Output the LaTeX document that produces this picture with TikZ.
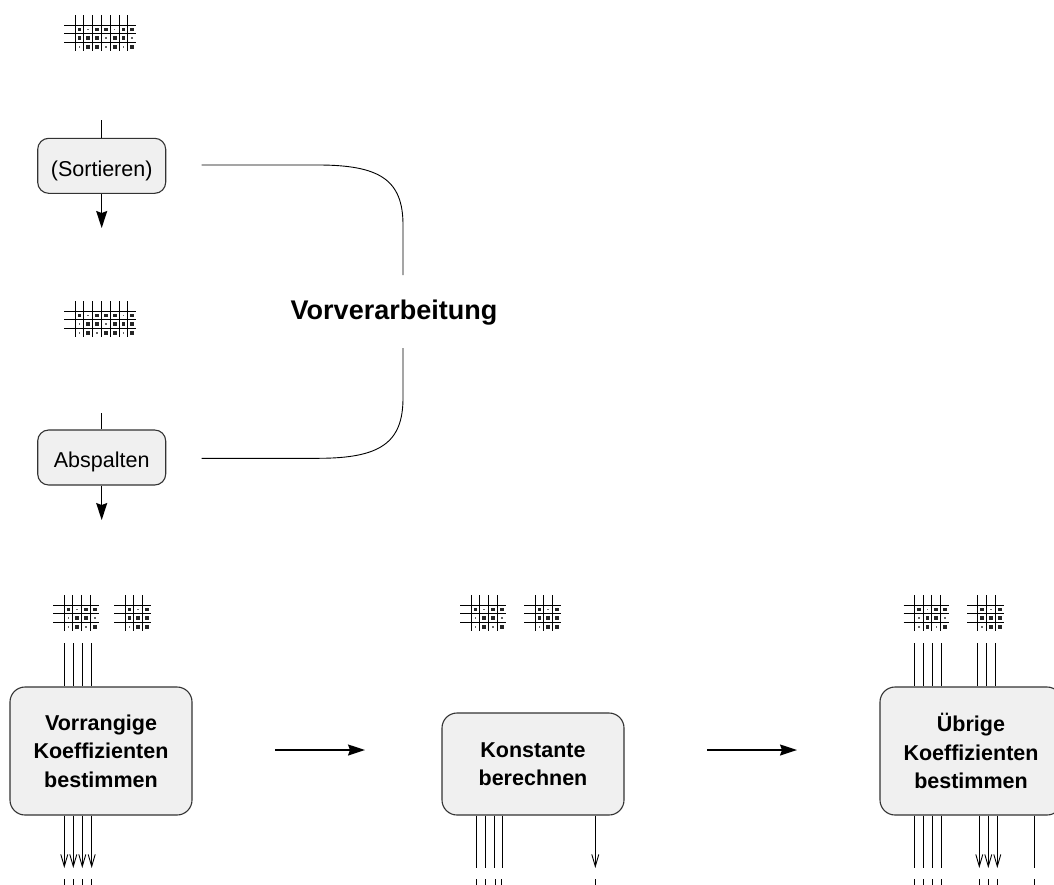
\documentclass[tikz,border=0pt]{standalone}
\usepackage{fontspec}
\setmainfont{Liberation Sans}
\usetikzlibrary{arrows.meta}
\definecolor{boxfill}{HTML}{F0F0F0}
\definecolor{boxline}{HTML}{333333}
\newcommand\cs{8.8}
\newcommand\spm[4]{%
 \begin{scope}[shift={(#1,#2)}]
  \foreach \i in {1,...,#3} \draw[gline] ({(\i-1)*\cs},-10) -- ({(\i-1)*\cs},{2*\cs+8.5});
  \foreach \j in {0,1,2} \draw[gline] (-10.7,{\j*\cs}) -- ({(#3-1)*\cs+8.3},{\j*\cs});
  \foreach \row [count=\j from 0] in {#4} {
    \foreach \t [count=\i from 0] in \row {
      \ifnum\t=2
        \fill[black!85] ({\i*\cs+\cs/2-1.9},{\j*\cs+\cs/2-1.9}) rectangle +(3.8,3.8);
      \else
        \fill[black!60] ({\i*\cs+\cs/2-0.8},{\j*\cs+\cs/2-0.8}) rectangle +(1.6,1.6);
      \fi
    }
  }
 \end{scope}}
\tikzset{
  gline/.style={line width=0.9pt, black},
  smallbox/.style={draw=boxline, fill=boxfill, line width=1.1pt, rounded corners=11pt,
    minimum width=128pt, minimum height=55pt, inner sep=0pt,
    text height=25pt, text depth=4.6pt,
    font=\fontsize{21.5}{26}\selectfont},
  bigbox/.style={draw=boxline, fill=boxfill, line width=1.1pt, rounded corners=15pt,
    minimum width=182pt, inner sep=0pt, align=center,
    font=\fontsize{21.5}{28.5}\selectfont\bfseries},
  conn/.style={line width=1.2pt},
  bigarrow/.style={line width=1.4pt, -{Stealth[length=17pt,width=11pt,inset=2pt]}},
  thin/.style={line width=0.9pt},
  thinarrow/.style={line width=0.9pt, -{Straight Barb[length=12pt,width=7pt]}},
}
\begin{document}
\begin{tikzpicture}[x=1pt,y=-1pt]
\useasboundingbox (0,0) rectangle (1054,884);
\clip (0,0) rectangle (1054,884);
% sparse matrix icons
\spm{75}{25}{7}{{2,1,2,2,1,2,2},{2,2,2,1,2,2,1},{1,2,2,1,2,1,2}}
\spm{75}{311}{7}{{2,1,2,2,2,1,2},{1,2,2,1,2,2,2},{1,2,1,2,2,1,2}}
\spm{64}{605}{4}{{2,1,2,2},{1,2,2,1},{1,2,1,2}}
\spm{125}{605}{3}{{2,1,2},{2,2,2},{1,2,2}}
\spm{471}{605}{4}{{2,1,2,2},{1,2,2,1},{1,2,1,2}}
\spm{535}{605}{3}{{2,1,2},{2,2,2},{1,2,2}}
\spm{914.3}{605}{4}{{2,1,2,2},{1,2,2,1},{1,2,1,2}}
\spm{977.7}{605}{3}{{2,1,2},{2,2,2},{1,2,2}}
% preprocessing boxes
\node[smallbox] (sort) at (101.7,165.8) {(Sortieren)};
\node[smallbox] (absp) at (101.7,457.5) {Abspalten};
\coordinate (sIn) at (101.7,120);
\coordinate (sOut) at (101.7,228);
\coordinate (aIn) at (101.7,413);
\coordinate (aOut) at (101.7,520);
\draw[conn] (sIn) -- (sort);
\draw[bigarrow] (sort) -- (sOut);
\draw[conn] (aIn) -- (absp);
\draw[bigarrow] (absp) -- (aOut);
% brace
\node[font=\fontsize{27}{32}\selectfont\bfseries] (vv) at (394,313) {Vorverarbeitung};
\coordinate (bT1) at (201.7,165);
\coordinate (bT2) at (403,275);
\coordinate (bB1) at (403,348);
\coordinate (bB2) at (201.7,458.3);
\draw[thin] (bT1) -- (318,165) .. controls (380,165) and (403,180) .. (403,225) -- (bT2);
\draw[thin] (bB1) -- (403,398) .. controls (403,443) and (380,458.3) .. (318,458.3) -- (bB2);
% main boxes
\node[bigbox, minimum height=128pt] (vk) at (101,751) {Vorrangige\\Koeffizienten\\bestimmen};
\node[bigbox, minimum height=102pt] (ks) at (533,764) {Konstante\\berechnen};
\node[bigbox, minimum height=128pt] (ub) at (971,751) {Übrige\\Koeffizienten\\bestimmen};
\coordinate (h1s) at (275,750);
\coordinate (h1e) at (365,750);
\coordinate (h2s) at (707,750);
\coordinate (h2e) at (797,750);
\draw[bigarrow] (h1s) -- (h1e);
\draw[bigarrow] (h2s) -- (h2e);
% inputs
\foreach \x in {64.3,73.3,82.3,91.7} \draw[thin] (\x,643) -- (\x,643 |- vk.north);
\foreach \x in {914.3,923.3,932.3,941.7,977.7,986.7,995.7} \draw[thin] (\x,643) -- (\x,643 |- ub.north);
% outputs
\foreach \x in {64.3,73.3,82.3,91.7} \draw[thinarrow] (\x,0 |- vk.south) -- (\x,868);
\foreach \x in {476,485,494,502.7} \draw[thin] (\x,0 |- ks.south) -- (\x,868);
\foreach \x in {595.3} \draw[thinarrow] (\x,0 |- ks.south) -- (\x,868);
\foreach \x in {914.3,923.3,932.3,941.7,1034.3} \draw[thin] (\x,0 |- ub.south) -- (\x,868);
\foreach \x in {979.3,988.3,997.3} \draw[thinarrow] (\x,0 |- ub.south) -- (\x,868);
% next icons (cut off)
\foreach \x in {64.3,73.3,82.3,91.7,476.7,485,495,501.7,595.3,914.3,923.3,932.3,941.7,979.3,988.3,997.3,1034.3}
  \draw[gline] (\x,879) -- (\x,890);
\end{tikzpicture}
\end{document}
